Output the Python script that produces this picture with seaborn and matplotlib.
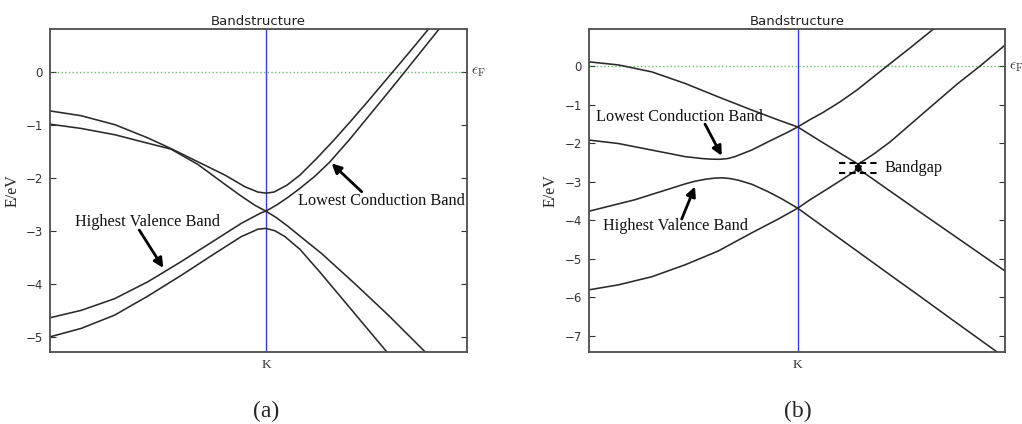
import matplotlib
matplotlib.use("Agg")
import matplotlib.pyplot as plt
import numpy as np
import pandas as pd
import seaborn as sns

# ---- panel (a): k measured from K (arbitrary path units), E in eV ----
A1_K = [-2.16, -1.85, -1.51, -1.18, -0.95, -0.68, -0.41, -0.21, -0.08, 0.0, 0.08, 0.21,
        0.34, 0.50, 0.67, 0.84, 1.01, 1.27, 1.44, 1.62, 1.66]
A1_E = [-0.74, -0.83, -1.00, -1.25, -1.45, -1.70, -1.95, -2.17, -2.27, -2.29, -2.27, -2.14,
        -1.95, -1.65, -1.31, -0.95, -0.58, 0.00, 0.38, 0.79, 0.87]
A2_K = [-2.16, -1.85, -1.51, -1.18, -0.95, -0.68, -0.45, -0.26, -0.11, 0.0, 0.11, 0.22,
        0.34, 0.49, 0.64, 0.84, 1.04, 1.24, 1.39, 1.56, 1.73, 1.77]
A2_E = [-0.99, -1.07, -1.19, -1.35, -1.46, -1.75, -2.07, -2.33, -2.52, -2.63, -2.51, -2.37,
        -2.20, -1.97, -1.70, -1.27, -0.81, -0.35, 0.00, 0.40, 0.80, 0.89]
A3_K = [-2.16, -1.847, -1.513, -1.18, -1.013, -0.847, -0.513, -0.247, -0.047, 0.0, 0.11,
        0.223, 0.34, 0.557, 0.89, 1.223, 1.59, 1.64]
A3_E = [-4.64, -4.50, -4.28, -3.96, -3.77, -3.58, -3.18, -2.86, -2.66, -2.63, -2.76,
        -2.92, -3.10, -3.43, -4.00, -4.59, -5.28, -5.37]
A4_K = [-2.16, -1.847, -1.513, -1.18, -0.847, -0.513, -0.247, -0.08, 0.0, 0.09, 0.19,
        0.34, 0.54, 0.74, 0.94, 1.207, 1.24]
A4_E = [-5.00, -4.84, -4.59, -4.23, -3.84, -3.43, -3.11, -2.97, -2.955, -3.00, -3.11,
        -3.35, -3.78, -4.23, -4.68, -5.28, -5.36]

# ---- panel (b) ----
B1_K = [-2.09, -1.794, -1.46, -1.127, -0.794, -0.46, -0.194, 0.0, 0.123, 0.256, 0.423,
        0.593, 0.893, 1.123, 1.356, 1.403]
B1_E = [0.11, 0.03, -0.15, -0.45, -0.80, -1.14, -1.40, -1.58, -1.39, -1.20, -0.93,
        -0.62, 0.00, 0.47, 0.96, 1.06]
B2_K = [-2.09, -1.794, -1.46, -1.127, -0.96, -0.877, -0.777, -0.697, -0.627, -0.46, -0.26,
        -0.094, 0.0, 0.123, 0.253, 0.423, 0.543, 0.583, 0.603, 0.623, 0.663, 0.773, 0.923,
        1.093, 1.253, 1.423, 1.593, 1.823, 2.073]
B2_E = [-1.92, -2.01, -2.18, -2.35, -2.40, -2.415, -2.42, -2.40, -2.35, -2.18, -1.92,
        -1.71, -1.58, -1.78, -1.99, -2.26, -2.45, -2.51, -2.55, -2.51, -2.45, -2.26, -1.97,
        -1.59, -1.23, -0.85, -0.47, 0.00, 0.545]
B3_K = [-2.09, -1.797, -1.627, -1.457, -1.297, -1.127, -1.027, -0.927, -0.837, -0.757,
        -0.677, -0.597, -0.457, -0.297, -0.157, 0.0, 0.123, 0.253, 0.423, 0.543, 0.583,
        0.603, 0.623, 0.663, 0.773, 0.893, 1.223, 1.623, 2.073]
B3_E = [-3.77, -3.58, -3.47, -3.33, -3.20, -3.06, -2.99, -2.94, -2.91, -2.90, -2.92,
        -2.96, -3.07, -3.26, -3.45, -3.69, -3.47, -3.26, -2.98, -2.78, -2.71, -2.68,
        -2.71, -2.77, -2.97, -3.19, -3.79, -4.51, -5.32]
B4_K = [-2.09, -1.794, -1.46, -1.127, -0.794, -0.46, -0.194, 0.0, 0.256, 0.59, 0.923,
        1.256, 1.59, 1.99, 2.053]
B4_E = [-5.81, -5.68, -5.47, -5.16, -4.80, -4.33, -3.97, -3.69, -4.17, -4.795, -5.42,
        -6.04, -6.67, -7.415, -7.53]

A_XLIM = (-2.16, 2.007)
A_YLIM = (-5.28, 0.81)
A_YTICKS = [-5, -4, -3, -2, -1, 0]
B_XLIM = (-2.09, 2.073)
B_YLIM = (-7.415, 0.97)
B_YTICKS = [-7, -6, -5, -4, -3, -2, -1, 0]

SERIF = "Liberation Serif"
ANN_SIZE = 11.7


def bands_frame(pairs):
    parts = []
    for i, (k, e) in enumerate(pairs):
        parts.append(pd.DataFrame({"k": k, "E": e, "band": i}))
    return pd.concat(parts, ignore_index=True)


def draw_panel(ax, df, xlim, ylim, yticks):
    sns.lineplot(data=df, x="k", y="E", units="band", estimator=None, sort=False,
                 color="#2a2a2a", linewidth=1.15, legend=False, ax=ax)
    ax.axvline(0, color="#3a3af0", linewidth=1.0, zorder=1)
    ax.axhline(0, color="#2ca02c", linestyle=":", linewidth=1.0, alpha=0.7, zorder=1)
    ax.set_xlim(*xlim)
    ax.set_ylim(*ylim)
    ax.set_yticks(yticks)
    ax.set_yticklabels([f"\u2212{abs(t)}" if t < 0 else str(t) for t in yticks])
    ax.set_xticks([0])
    ax.set_xticklabels(["K"], fontfamily=SERIF, fontsize=9.5)
    ax.tick_params(axis="y", direction="in", length=4, right=True, left=True,
                   labelsize=8.5, colors="#333333", pad=5)
    ax.tick_params(axis="x", direction="in", length=0, pad=5, colors="#333333")
    for s in ax.spines.values():
        s.set_color("#4d4d4d")
        s.set_linewidth(1.3)
    ax.set_xlabel("")
    ax.set_ylabel("E/eV", fontfamily=SERIF, fontsize=11.5, labelpad=4)
    ax.set_title("Bandstructure", fontsize=9.5, pad=3, color="#222222")
    ax.text(1.01, 0, r"$\epsilon_{\rm F}$", transform=ax.get_yaxis_transform(),
            ha="left", va="center", fontsize=11, math_fontfamily="cm", color="#333333")


def label(ax, x, y, text):
    ax.text(x, y, text, fontfamily=SERIF, fontsize=ANN_SIZE, ha="left", va="center",
            color="#111111")


def arrow(ax, tail, tip):
    ax.annotate("", xy=tip, xytext=tail,
                arrowprops=dict(arrowstyle="-|>", color="k", lw=2.0, mutation_scale=14,
                                shrinkA=0, shrinkB=0))


sns.set_style("white")
plt.rcParams["font.family"] = ["DejaVu Sans"]

fig = plt.figure(figsize=(10.22, 4.24), dpi=100)
ax_a = fig.add_axes([0.0489, 0.1705, 0.4077, 0.7618])
ax_b = fig.add_axes([0.5760, 0.1705, 0.4074, 0.7618])

df_a = bands_frame([(A1_K, A1_E), (A2_K, A2_E), (A3_K, A3_E), (A4_K, A4_E)])
df_b = bands_frame([(B1_K, B1_E), (B2_K, B2_E), (B3_K, B3_E), (B4_K, B4_E)])

draw_panel(ax_a, df_a, A_XLIM, A_YLIM, A_YTICKS)
draw_panel(ax_b, df_b, B_XLIM, B_YLIM, B_YTICKS)

# annotations, panel (a)
label(ax_a, 0.32, -2.44, "Lowest Conduction Band")
arrow(ax_a, (0.957, -2.264), (0.657, -1.73))
label(ax_a, -1.91, -2.84, "Highest Valence Band")
arrow(ax_a, (-1.267, -2.987), (-1.027, -3.70))

# annotations, panel (b)
label(ax_b, -2.017, -1.331, "Lowest Conduction Band")
arrow(ax_b, (-0.927, -1.505), (-0.76, -2.33))
label(ax_b, -1.95, -4.153, "Highest Valence Band")
arrow(ax_b, (-1.16, -3.971), (-1.027, -3.13))
ax_b.plot([0.416, 0.806], [-2.51, -2.51], color="k", ls=(0, (3, 2)), lw=1.5)
ax_b.plot([0.416, 0.806], [-2.77, -2.77], color="k", ls=(0, (3, 2)), lw=1.5)
ax_b.annotate("", xy=(0.606, -2.49), xytext=(0.606, -2.79),
              arrowprops=dict(arrowstyle="<|-|>", color="k", lw=1.5, mutation_scale=9,
                              shrinkA=0, shrinkB=0))
label(ax_b, 0.863, -2.647, "Bandgap")

fig.text(266 / 1022, 1 - 411 / 424, "(a)", fontfamily=SERIF, fontsize=17,
         ha="center", va="center")
fig.text(798 / 1022, 1 - 411 / 424, "(b)", fontfamily=SERIF, fontsize=17,
         ha="center", va="center")

fig.savefig("out.png", dpi=100)
